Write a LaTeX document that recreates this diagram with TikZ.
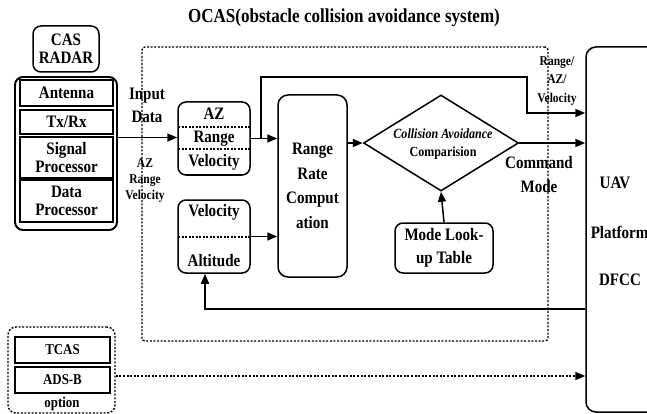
\documentclass[tikz,border=0pt]{standalone}
\usepackage{fontspec}
\setmainfont[FakeStretch=0.86]{Liberation Serif}
\usetikzlibrary{arrows.meta,shapes.geometric}
\begin{document}
\begin{tikzpicture}[x=1pt,y=-1pt,line width=1.5pt,
  arr/.style={-{Triangle[length=10pt,width=8pt]}},
  dotline/.style={line width=1.4pt,dash pattern=on 2pt off 1.6pt},
  rbox/.style={draw,rounded corners=8pt,line width=1.5pt,inner sep=0pt},
  rowbox/.style={draw,line width=1.6pt,inner sep=0pt},
  txt/.style={font=\fontsize{17.5}{18}\selectfont\bfseries,align=center,inner sep=0pt},
  small/.style={font=\fontsize{13.4}{16}\selectfont\bfseries,align=center,inner sep=0pt},
  divider/.style={line width=1.2pt,dash pattern=on 2pt off 1.5pt}]
\useasboundingbox (0,0) rectangle (647,414);

% title
\node[font=\fontsize{19.8}{20}\selectfont\bfseries,inner sep=0pt] (title) at (344,18) {OCAS(obstacle collision avoidance system)};

% OCAS dotted boundary
\node[draw,dotline,rounded corners=3pt,minimum width=406,minimum height=294,inner sep=0pt] (ocas) at (345,194) {};

% CAS RADAR
\node[rbox,txt,minimum width=66,minimum height=46] (cas) at (66,49) {CAS\\RADAR};
\node[draw,rounded corners=8pt,line width=1.9pt,minimum width=102,minimum height=153,inner sep=0pt] (radar) at (66,153.5) {};
\node[rowbox,txt,minimum width=93,minimum height=26] (ant) at (66.5,93) {Antenna};
\node[rowbox,txt,minimum width=93,minimum height=24] (txrx) at (66.5,122) {Tx/Rx};
\node[rowbox,txt,minimum width=93,minimum height=41] (sp) at (66.5,157.5) {Signal\\Processor};
\node[rowbox,txt,minimum width=93,minimum height=42] (dp) at (66.5,201) {Data\\Processor};

% input labels
\node[txt,font=\fontsize{17.5}{23}\selectfont\bfseries] (input) at (147,105) {Input\\Data};
\node[small] (inlab) at (145,181) {AZ\\Range\\Velocity};

% AZ box
\node[rbox,minimum width=72,minimum height=73] (az) at (214,138.5) {};
\draw[divider] (178,127) -- (250,127);
\draw[divider] (178,149) -- (250,149);
\node[txt] (azt) at (214,114) {AZ};
\node[txt] (azr) at (214,138.5) {Range};
\node[txt] (azv) at (214,162) {Velocity};

% Velocity / Altitude box
\node[rbox,minimum width=72,minimum height=73] (va) at (214,236.5) {};
\draw[divider] (178,237) -- (250,237);
\node[txt] (vav) at (214,212) {Velocity};
\node[txt] (vaa) at (214,261) {Altitude};

% Range Rate Computation
\node[rbox,txt,font=\fontsize{17.5}{24.5}\selectfont\bfseries,minimum width=69,minimum height=182,rounded corners=10pt] (rrc) at (312.5,186) {Range\\Rate\\Comput\\ation};

% Diamond
\node[draw,diamond,line width=1.5pt,minimum width=155,minimum height=96,inner sep=0pt] (dia) at (441,143) {};
\node[font=\fontsize{14}{18}\selectfont\bfseries,align=center,inner sep=0pt] (diat) at (443,144) {\textit{Collision Avoidance}\\Comparision};

% Mode look-up table
\node[rbox,txt,font=\fontsize{17.5}{23}\selectfont\bfseries,minimum width=98,minimum height=50] (mode) at (444,248) {Mode Look-\\up Table};

% UAV platform
\node[draw,rounded corners=10pt,line width=1.5pt,minimum width=94,minimum height=365,inner sep=0pt] (uav) at (633,229.5) {};
\node[txt] (uavt) at (615,183) {UAV};
\node[txt,anchor=west] (plat) at (590,232) {Platform};
\node[txt] (dfcc) at (620,280) {DFCC};

% labels
\node[small,font=\fontsize{13.4}{18.5}\selectfont\bfseries] (rav) at (557,81) {Range/\\AZ/\\Velocity};
\node[txt,font=\fontsize{17.5}{24}\selectfont\bfseries] (cmd) at (539,175) {Command\\Mode};

% option box
\node[draw,dotline,rounded corners=8pt,minimum width=107,minimum height=86,inner sep=0pt] (opt) at (61.5,370) {};
\node[rowbox,font=\fontsize{15}{15}\selectfont\bfseries,minimum width=95,minimum height=26] (tcas) at (62.5,350) {TCAS};
\node[rowbox,font=\fontsize{15}{15}\selectfont\bfseries,minimum width=95,minimum height=26] (adsb) at (62.5,380) {ADS-B};
\node[font=\fontsize{15}{15}\selectfont\bfseries,inner sep=0pt] (optt) at (62,404) {option};

% connectors
\draw[arr] (radar.east |- 0,137.5) -- (az.west |- 0,137.5);
\draw[arr] (az.east) -- (rrc.west |- az.east);
\draw[arr] ([xshift=10pt]az.east) |- (527,77) |- (uav.west |- 0,113);
\draw[arr] (va.east) -- (rrc.west |- va.east);
\draw[arr] (rrc.east |- dia.west) -- (dia.west);
\draw[arr] (dia.east) -- (uav.west |- dia.east);
\draw[arr] (mode.north) -- (dia.south);
\draw[arr] (uav.west |- 0,309) -| ([xshift=-9pt]va.south);
\draw[dotline,arr] (opt.east |- 0,376) -- (uav.west |- 0,376);
\end{tikzpicture}
\end{document}
